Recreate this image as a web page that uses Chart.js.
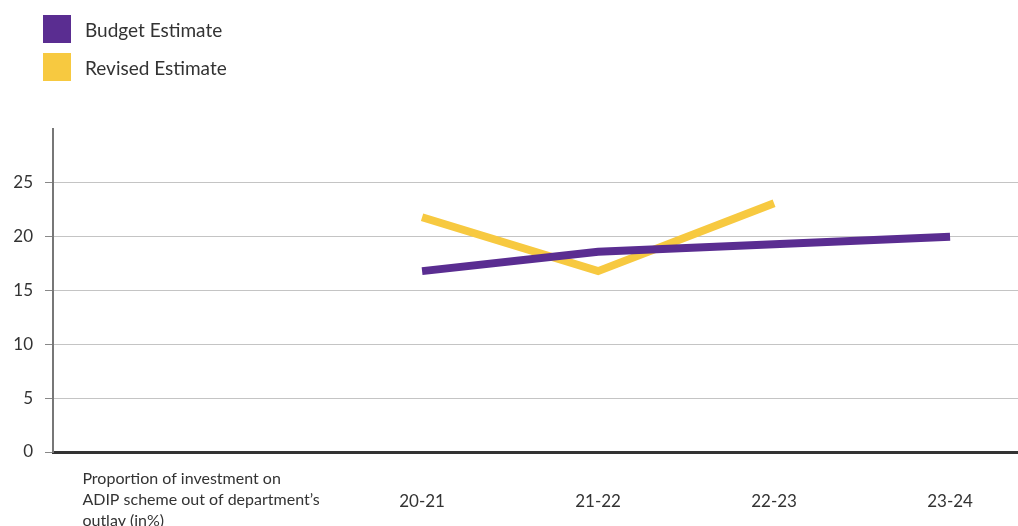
<!DOCTYPE html>
<html>
<head>
<meta charset="utf-8">
<script src="https://cdn.jsdelivr.net/npm/chart.js@4.4.1/dist/chart.umd.min.js"></script>
<style>
  html, body { margin: 0; padding: 0; background: #fff; }
  #wrap { position: relative; width: 1018px; height: 526px; overflow: hidden; }
  #legend { position: absolute; left: 43px; top: 15px; font-family: Lato, sans-serif; font-size: 19px; color: #333; }
  #legend .row { display: flex; align-items: center; height: 28px; margin-bottom: 10px; }
  #legend .sw { width: 28px; height: 28px; margin-right: 14px; }
</style>
</head>
<body>
<div id="wrap">
  <canvas id="chart" width="1018" height="526"></canvas>
  <div id="legend"></div>
</div>
<script>
// ---- data ----
const descLabel = ['Proportion of investment on', 'ADIP scheme out of department\u2019s', 'outlay (in%)'];
const years = ['20-21', '21-22', '22-23', '23-24'];
const budgetEstimate = [16.8, 18.6, 19.3, 20.0];
const revisedEstimate = [21.8, 16.8, 23.1];
const yTicks = [0, 5, 10, 15, 20, 25];

const PURPLE = '#5a2d91';
const YELLOW = '#f7c940';
const FONT = 'Lato, sans-serif';
const TEXT = '#333';

const toPoints = arr => arr.map((v, i) => ({ x: i + 1, y: v }));

const datasets = [
  { label: 'Budget Estimate', data: toPoints(budgetEstimate), borderColor: PURPLE, backgroundColor: PURPLE },
  { label: 'Revised Estimate', data: toPoints(revisedEstimate), borderColor: YELLOW, backgroundColor: YELLOW },
].map(d => Object.assign(d, {
  borderWidth: 8, pointRadius: 0, tension: 0,
  borderCapStyle: 'butt', borderJoinStyle: 'miter', fill: false,
}));

// row header under the axis, left aligned (chart.js centres multi-line ticks)
const descPlugin = {
  id: 'desc',
  afterDraw(chart) {
    const xs = chart.scales.x;
    const ctx = chart.ctx;
    ctx.save();
    ctx.font = '16px ' + FONT;
    ctx.fillStyle = TEXT;
    ctx.textAlign = 'left';
    ctx.textBaseline = 'middle';
    const left = xs.getPixelForValue(-0.93);
    descLabel.forEach((line, i) => ctx.fillText(line, left, xs.top + 48 + (i - 1) * 21));
    ctx.restore();
  },
};

new Chart(document.getElementById('chart').getContext('2d'), {
  type: 'line',
  data: { datasets },
  plugins: [descPlugin],
  options: {
    responsive: false,
    animation: false,
    layout: { padding: { top: 129, right: 0, bottom: 0, left: 0 } },
    plugins: { legend: { display: false }, tooltip: { enabled: false } },
    scales: {
      x: {
        type: 'linear',
        min: -1.097, max: 4.386,
        afterBuildTicks: s => { s.ticks = years.map((_, i) => ({ value: i + 1 })); },
        afterFit: s => { s.height = 74; },
        border: { color: '#333', width: 3 },
        grid: { display: false, drawTicks: false },
        ticks: {
          autoSkip: false, maxRotation: 0, padding: 39,
          color: TEXT,
          font: { family: FONT, size: 17 },
          callback: v => years[v - 1],
        },
      },
      y: {
        min: 0, max: 30,
        afterBuildTicks: s => { s.ticks = yTicks.map(v => ({ value: v })); },
        afterFit: s => { s.width = 53; },
        border: { color: '#777', width: 2 },
        grid: {
          color: ctx => ctx.tick && ctx.tick.value === 0 ? 'rgba(0,0,0,0)' : '#c4c4c4',
          tickColor: '#888',
          tickLength: 8,
          lineWidth: 1,
        },
        ticks: { color: TEXT, padding: 12, font: { family: FONT, size: 17 } },
      },
    },
  },
});

// html legend, stacked like the original
const legend = document.getElementById('legend');
datasets.forEach(d => {
  const row = document.createElement('div');
  row.className = 'row';
  row.innerHTML = `<div class="sw" style="background:${d.borderColor}"></div><span>${d.label}</span>`;
  legend.appendChild(row);
});
</script>
</body>
</html>
